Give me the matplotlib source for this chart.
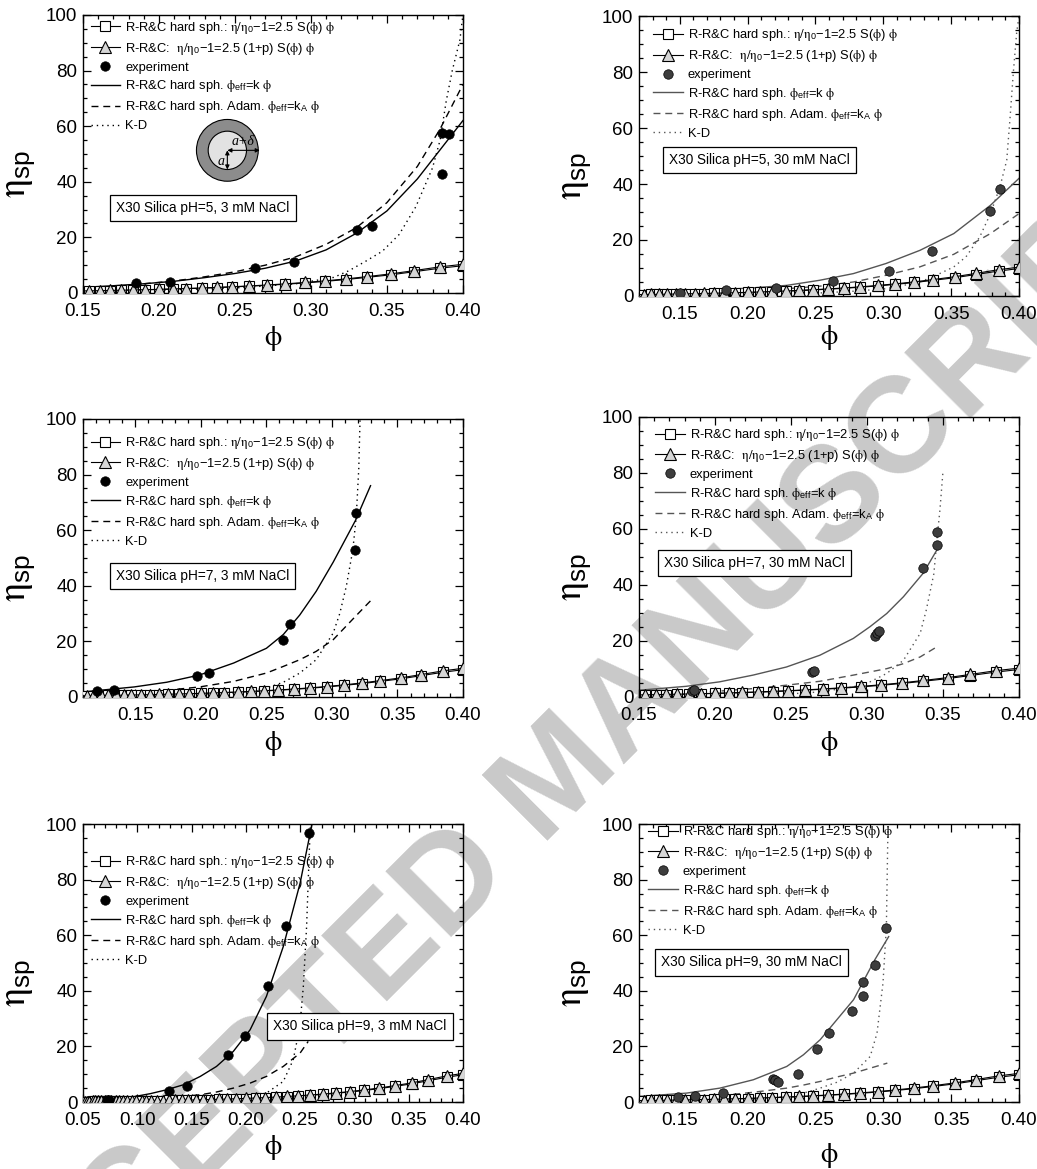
import matplotlib
matplotlib.use("Agg")
import matplotlib.pyplot as plt
from matplotlib.ticker import MultipleLocator, FormatStrFormatter
from matplotlib.patches import Circle

plt.rcParams['font.family'] = ['Liberation Sans', 'DejaVu Sans']
plt.rcParams['mathtext.fontset'] = 'custom'
plt.rcParams['mathtext.rm'] = 'STIXGeneral'
plt.rcParams['mathtext.it'] = 'STIXGeneral:italic'
plt.rcParams['mathtext.sf'] = 'Liberation Sans'
plt.rcParams['mathtext.default'] = 'rm'

# ---- hard-sphere model curves (common to all panels) ----
phi_hs = [0.050, 0.052, 0.054, 0.056, 0.059, 0.061, 0.064, 0.067, 0.070, 0.073,
          0.076, 0.080, 0.083, 0.087, 0.091, 0.095, 0.099, 0.104, 0.108, 0.113,
          0.118, 0.124, 0.129, 0.135, 0.141, 0.147, 0.154, 0.161, 0.168, 0.175,
          0.183, 0.191, 0.200, 0.209, 0.218, 0.228, 0.238, 0.248, 0.259, 0.271,
          0.283, 0.296, 0.309, 0.323, 0.337, 0.353, 0.368, 0.385, 0.400]
eta_hs_sq = [0.15, 0.16, 0.17, 0.18, 0.19, 0.20, 0.21, 0.22, 0.23, 0.25,
             0.26, 0.28, 0.29, 0.31, 0.33, 0.35, 0.37, 0.40, 0.42, 0.45,
             0.48, 0.51, 0.55, 0.59, 0.63, 0.68, 0.74, 0.80, 0.87, 0.95,
             1.04, 1.14, 1.26, 1.39, 1.54, 1.72, 1.92, 2.15, 2.42, 2.75,
             3.13, 3.60, 4.15, 4.82, 5.60, 6.55, 7.65, 8.90, 9.80]
eta_hs_tri = [0.15, 0.16, 0.17, 0.18, 0.19, 0.20, 0.21, 0.23, 0.24, 0.25,
              0.27, 0.28, 0.30, 0.32, 0.34, 0.36, 0.38, 0.41, 0.43, 0.46,
              0.49, 0.53, 0.56, 0.61, 0.65, 0.70, 0.76, 0.83, 0.90, 0.98,
              1.08, 1.18, 1.30, 1.44, 1.60, 1.78, 1.99, 2.23, 2.52, 2.86,
              3.27, 3.76, 4.34, 5.05, 5.88, 6.90, 8.05, 9.40, 10.3]

# ---- pH=5, 3 mM NaCl ----
exp_x_a = [0.185, 0.207, 0.263, 0.289, 0.330, 0.340, 0.386, 0.3865, 0.391]
exp_y_a = [3.6, 4.1, 9.0, 11.3, 22.8, 24.2, 42.8, 57.4, 57.0]
k_x_a = [0.15, 0.17, 0.19, 0.21, 0.23, 0.25, 0.27, 0.29, 0.31, 0.33, 0.35, 0.37, 0.385, 0.40]
k_y_a = [2.0, 2.6, 3.3, 4.2, 5.5, 7.0, 8.9, 11.5, 15.5, 21.5, 29.5, 41.0, 51.5, 62.0]
ka_x_a = [0.19, 0.21, 0.23, 0.25, 0.27, 0.29, 0.31, 0.33, 0.35, 0.37, 0.385, 0.40]
ka_y_a = [3.3, 4.3, 5.8, 7.6, 10.0, 13.0, 17.5, 23.5, 32.5, 45.5, 59.0, 75.0]
kd_x_a = [0.20, 0.25, 0.27, 0.29, 0.30, 0.315, 0.325, 0.336, 0.347, 0.358, 0.369,
          0.380, 0.385, 0.389, 0.393, 0.398, 0.40]
kd_y_a = [1.0, 1.8, 2.5, 3.3, 4.2, 5.6, 8.0, 11.4, 15.0, 21.0, 31.0,
          45.0, 55.0, 69.0, 80.0, 91.0, 100.0]

# ---- pH=5, 30 mM NaCl ----
exp_x_b = [0.150, 0.184, 0.221, 0.263, 0.304, 0.336, 0.379, 0.386]
exp_y_b = [1.1, 2.3, 3.0, 5.2, 8.8, 16.1, 30.3, 38.1]
k_x_b = [0.12, 0.15, 0.18, 0.204, 0.229, 0.253, 0.278, 0.302, 0.327, 0.352, 0.379, 0.40]
k_y_b = [1.3, 1.8, 2.3, 2.9, 3.8, 5.6, 8.0, 11.6, 16.3, 22.3, 32.4, 42.0]
ka_x_b = [0.18, 0.204, 0.229, 0.253, 0.278, 0.302, 0.327, 0.352, 0.379, 0.40]
ka_y_b = [1.6, 2.0, 2.6, 3.5, 5.0, 7.4, 10.4, 14.9, 22.3, 29.4]
kd_x_b = [0.25, 0.278, 0.302, 0.315, 0.327, 0.339, 0.352, 0.361, 0.371, 0.379,
          0.386, 0.391, 0.3935, 0.3958, 0.3983, 0.40]
kd_y_b = [1.0, 1.7, 2.6, 3.8, 5.0, 7.4, 10.4, 14.0, 21.0, 29.4,
          39.0, 48.5, 64.0, 79.5, 94.0, 100.0]

# ---- pH=7, 3 mM NaCl ----
exp_x_c = [0.121, 0.134, 0.197, 0.2065, 0.2623, 0.2679, 0.3179, 0.3181]
exp_y_c = [2.3, 2.6, 7.4, 8.6, 20.4, 26.2, 52.7, 66.1]
k_x_c = [0.11, 0.123, 0.149, 0.174, 0.199, 0.225, 0.25, 0.263, 0.2755, 0.288, 0.301, 0.318, 0.3295]
k_y_c = [1.8, 2.4, 3.6, 5.3, 7.9, 12.2, 17.5, 22.5, 29.5, 38.0, 48.5, 63.5, 76.0]
ka_x_c = [0.11, 0.149, 0.174, 0.199, 0.225, 0.25, 0.263, 0.2755, 0.288, 0.301, 0.318, 0.3295]
ka_y_c = [1.2, 1.7, 2.4, 3.6, 5.6, 8.6, 11.0, 13.4, 16.4, 20.6, 29.0, 34.6]
kd_x_c = [0.20, 0.225, 0.25, 0.263, 0.2755, 0.288, 0.301, 0.306, 0.311, 0.316,
          0.3186, 0.3205, 0.3215]
kd_y_c = [0.8, 1.4, 3.2, 5.3, 8.6, 13.4, 23.0, 30.0, 39.8, 53.0, 65.0, 82.0, 100.0]

# ---- pH=7, 30 mM NaCl ----
exp_x_d = [0.185, 0.186, 0.264, 0.265, 0.3056, 0.3069, 0.3078, 0.337, 0.346, 0.346]
exp_y_d = [2.0, 2.4, 9.0, 9.3, 21.7, 22.7, 23.6, 45.9, 54.2, 59.0]
k_x_d = [0.15, 0.181, 0.203, 0.225, 0.247, 0.269, 0.291, 0.302, 0.313, 0.324, 0.337, 0.346]
k_y_d = [2.4, 3.8, 5.4, 7.8, 10.7, 14.9, 20.9, 25.1, 29.8, 35.8, 44.2, 52.5]
ka_x_d = [0.15, 0.181, 0.203, 0.225, 0.247, 0.269, 0.291, 0.313, 0.324, 0.335, 0.346]
ka_y_d = [0.9, 1.4, 2.1, 3.0, 4.2, 5.6, 7.8, 10.1, 11.9, 14.3, 17.9]
kd_x_d = [0.247, 0.269, 0.291, 0.302, 0.313, 0.324, 0.335, 0.339, 0.344, 0.346, 0.348, 0.350]
kd_y_d = [1.0, 1.8, 3.6, 5.4, 8.4, 13.1, 22.7, 31.0, 44.0, 56.0, 66.8, 80.5]

# ---- pH=9, 3 mM NaCl ----
exp_x_e = [0.072, 0.0736, 0.1297, 0.1456, 0.1839, 0.1992, 0.2207, 0.2369, 0.2584]
exp_y_e = [0.6, 0.8, 4.1, 5.6, 17.0, 23.6, 41.9, 63.4, 96.6]
k_x_e = [0.05, 0.066, 0.08, 0.0966, 0.112, 0.127, 0.1425, 0.158, 0.173, 0.1885,
         0.204, 0.219, 0.2345, 0.25, 0.261]
k_y_e = [0.5, 0.8, 1.2, 1.9, 3.0, 4.4, 6.2, 9.2, 12.8, 18.2, 26.0, 38.0, 55.9, 78.7, 100.0]
ka_x_e = [0.0966, 0.127, 0.158, 0.173, 0.1885, 0.204, 0.219, 0.2345, 0.25, 0.2575]
ka_y_e = [0.8, 1.4, 2.6, 3.6, 5.0, 6.8, 9.2, 12.8, 17.6, 21.8]
kd_x_e = [0.158, 0.1885, 0.219, 0.2345, 0.2437, 0.2498, 0.253, 0.256, 0.258, 0.2595]
kd_y_e = [0.5, 1.1, 3.2, 7.4, 15.2, 27.2, 41.6, 63.0, 85.0, 100.0]

# ---- pH=9, 30 mM NaCl ----
exp_x_f = [0.1488, 0.1611, 0.1816, 0.2185, 0.2200, 0.2227, 0.2370, 0.2510, 0.2597,
           0.2769, 0.2850, 0.2850, 0.2937, 0.3023]
exp_y_f = [1.8, 2.0, 3.2, 8.4, 7.8, 7.2, 10.2, 19.0, 24.8, 32.6, 38.3, 43.0, 49.2, 62.5]
k_x_f = [0.12, 0.155, 0.1796, 0.2042, 0.2289, 0.2412, 0.2535, 0.2658, 0.2781, 0.2937, 0.304]
k_y_f = [2.0, 3.2, 5.0, 8.0, 12.8, 17.0, 22.4, 29.6, 36.8, 51.1, 59.5]
ka_x_f = [0.12, 0.155, 0.1796, 0.2042, 0.2289, 0.2412, 0.2535, 0.2658, 0.2781, 0.303]
ka_y_f = [0.8, 1.4, 2.3, 3.5, 5.0, 6.1, 7.4, 9.0, 10.4, 14.0]
kd_x_f = [0.2042, 0.2289, 0.2412, 0.2535, 0.2658, 0.2781, 0.2904, 0.2954, 0.2998,
          0.3023, 0.3035]
kd_y_f = [0.8, 2.0, 3.2, 5.0, 7.1, 10.4, 16.4, 24.8, 42.8, 63.0, 100.0]

sample_labels = ["X30 Silica pH=5, 3 mM NaCl", "X30 Silica pH=5, 30 mM NaCl",
                 "X30 Silica pH=7, 3 mM NaCl", "X30 Silica pH=7, 30 mM NaCl",
                 "X30 Silica pH=9, 3 mM NaCl", "X30 Silica pH=9, 30 mM NaCl"]
x_limits = [(0.15, 0.40), (0.12, 0.40), (0.11, 0.40), (0.15, 0.40), (0.05, 0.40), (0.12, 0.40)]

lbl_sq = r"R-R&C hard sph.: $\eta/\eta_{\mathsf{0}}$−1=2.5 S($\phi$) $\phi$"
lbl_tri = r"R-R&C:  $\eta/\eta_{\mathsf{0}}$−1=2.5 (1+p) S($\phi$) $\phi$"
lbl_exp = "experiment"
lbl_k = r"R-R&C hard sph. $\phi_{\mathsf{eff}}$=k $\phi$"
lbl_ka = r"R-R&C hard sph. Adam. $\phi_{\mathsf{eff}}$=k$_{\mathsf{A}}$ $\phi$"
lbl_kd = "K-D"

panels = [
    dict(exp=(exp_x_a, exp_y_a), k=(k_x_a, k_y_a), ka=(ka_x_a, ka_y_a), kd=(kd_x_a, kd_y_a)),
    dict(exp=(exp_x_b, exp_y_b), k=(k_x_b, k_y_b), ka=(ka_x_b, ka_y_b), kd=(kd_x_b, kd_y_b)),
    dict(exp=(exp_x_c, exp_y_c), k=(k_x_c, k_y_c), ka=(ka_x_c, ka_y_c), kd=(kd_x_c, kd_y_c)),
    dict(exp=(exp_x_d, exp_y_d), k=(k_x_d, k_y_d), ka=(ka_x_d, ka_y_d), kd=(kd_x_d, kd_y_d)),
    dict(exp=(exp_x_e, exp_y_e), k=(k_x_e, k_y_e), ka=(ka_x_e, ka_y_e), kd=(kd_x_e, kd_y_e)),
    dict(exp=(exp_x_f, exp_y_f), k=(k_x_f, k_y_f), ka=(ka_x_f, ka_y_f), kd=(kd_x_f, kd_y_f)),
]

# layout: axes rectangles, legend anchors, label-box centres, x-label offsets
axes_rects = [[0.0800, 0.7494, 0.3664, 0.2378], [0.6162, 0.7468, 0.3664, 0.2395],
              [0.0800, 0.4038, 0.3664, 0.2378], [0.6162, 0.4038, 0.3664, 0.2395],
              [0.0800, 0.0573, 0.3664, 0.2378], [0.6162, 0.0573, 0.3664, 0.2378]]
legend_anchor = [(0.02, 0.983), (0.037, 0.96), (0.02, 0.942), (0.042, 0.964), (0.02, 0.892), (0.024, 1.0)]
box_center = [(0.316, 0.305), (0.317, 0.486), (0.315, 0.435), (0.304, 0.478), (0.729, 0.272), (0.297, 0.502)]
xlabel_y = [-0.113, -0.098, -0.117, -0.116, -0.113, -0.142]
right_col = [False, True, False, True, False, True]

fig = plt.figure(figsize=(10.37, 11.69), dpi=100)

# diagonal watermark behind the panels
fig.text(0.540, 0.3328, "ACCEPTED MANUSCRIPT", fontsize=98, fontweight='bold',
         color='#c9c9c9', rotation=45, rotation_mode='anchor', ha='center', va='center',
         zorder=-10)

for i, p in enumerate(panels):
    ax = fig.add_axes(axes_rects[i])
    ax.set_facecolor('none')
    lc = '#555555' if right_col[i] else 'black'
    pc = '#3d3d3d' if right_col[i] else 'black'

    ax.plot(phi_hs, eta_hs_sq, '-', marker='s', color='black', lw=0.8, ms=7,
            mfc='white', mec='black', mew=0.8, label=lbl_sq, zorder=3)
    ax.plot(phi_hs, eta_hs_tri, '-', marker='^', color='black', lw=0.8, ms=8.5,
            mfc='#d6d6d6', mec='black', mew=0.8, label=lbl_tri, zorder=3.1)
    ax.plot(*p['exp'], 'o', ms=6.8, mfc=pc, mec='black', mew=0.5, label=lbl_exp, zorder=4)
    ax.plot(*p['k'], '-', color=lc, lw=1.0, label=lbl_k, zorder=2)
    ax.plot(*p['ka'], '--', color=lc, lw=1.0, dashes=(5, 3.5), label=lbl_ka, zorder=2)
    ax.plot(*p['kd'], ':', color=lc, lw=1.0, dashes=(1, 2.8), label=lbl_kd, zorder=2)

    ax.set_xlim(*x_limits[i])
    ax.set_ylim(0, 100)
    ax.xaxis.set_major_locator(MultipleLocator(0.05))
    ax.xaxis.set_minor_locator(MultipleLocator(0.01))
    ax.xaxis.set_major_formatter(FormatStrFormatter('%.2f'))
    ax.yaxis.set_major_locator(MultipleLocator(20))
    ax.yaxis.set_minor_locator(MultipleLocator(5))
    ax.tick_params(which='both', direction='in', top=True, right=True, width=0.9,
                   labelsize=13.5)
    ax.tick_params(which='major', length=6)
    ax.tick_params(which='minor', length=3)
    ax.tick_params(axis='x', pad=7)
    ax.tick_params(axis='y', pad=4)
    for s in ax.spines.values():
        s.set_linewidth(1.0)

    ax.set_xlabel(r"$\phi$", fontsize=20)
    ax.xaxis.set_label_coords(0.5, xlabel_y[i])
    ax.set_ylabel(r"$\eta_{\mathsf{sp}}$", fontsize=27)
    ax.yaxis.set_label_coords(-0.12, 0.43)

    leg = ax.legend(loc='upper left', bbox_to_anchor=legend_anchor[i], frameon=False,
                    fontsize=9.3, handlelength=2.3, handletextpad=0.4, labelspacing=0.38,
                    borderpad=0, borderaxespad=0, numpoints=1)
    leg.set_zorder(6)

    ax.text(*box_center[i], sample_labels[i], transform=ax.transAxes, fontsize=9.8,
            ha='center', va='center', zorder=7,
            bbox=dict(boxstyle='square,pad=0.45', fc='white', ec='black', lw=0.9))

    if i == 0:
        # core-shell particle sketch
        ins = ax.inset_axes([0.28, 0.3763, 0.2, 0.2734])
        ins.set_xlim(-1.23, 1.23)
        ins.set_ylim(-1.23, 1.23)
        ins.set_aspect('equal')
        ins.axis('off')
        ins.add_patch(Circle((0, 0), 1.0, fc='#8c8c8c', ec='black', lw=0.8))
        ins.add_patch(Circle((0, 0), 0.62, fc='#e2e2e2', ec='black', lw=0.8))
        ins.annotate('', xy=(0.0, 0), xytext=(1.05, 0),
                     arrowprops=dict(arrowstyle='<|-|>', lw=0.8, color='black',
                                     mutation_scale=6, shrinkA=0, shrinkB=0))
        ins.annotate('', xy=(0, -0.62), xytext=(0, 0),
                     arrowprops=dict(arrowstyle='<|-|>', lw=0.8, color='black',
                                     mutation_scale=6, shrinkA=0, shrinkB=0))
        ins.text(0.5, 0.3, "a+δ", fontsize=10, family='Liberation Serif', style='italic',
                 ha='center', va='center')
        ins.text(-0.2, -0.35, "a", fontsize=10, family='Liberation Serif', style='italic',
                 ha='center', va='center')

fig.savefig("out.png", dpi=100)
